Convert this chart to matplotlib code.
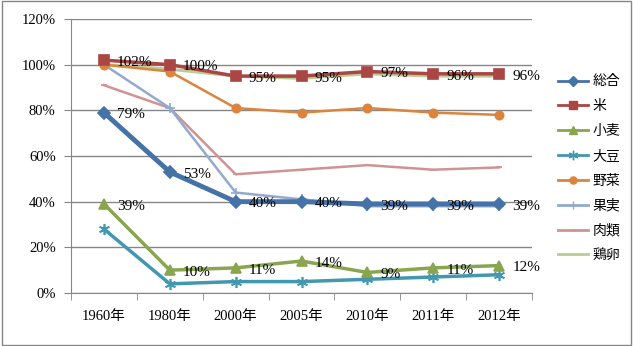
import matplotlib.pyplot as plt
from matplotlib.lines import Line2D
from matplotlib.ticker import FuncFormatter, MultipleLocator

plt.rcParams['font.family'] = ['Liberation Serif', 'Noto Sans CJK JP']

years = ["1960年", "1980年", "2000年", "2005年", "2010年", "2011年", "2012年"]
names = ["総合", "米", "小麦", "大豆", "野菜", "果実", "肉類", "鶏卵"]
total = [79, 53, 40, 40, 39, 39, 39]
rice = [102, 100, 95, 95, 97, 96, 96]
wheat = [39, 10, 11, 14, 9, 11, 12]
soy = [28, 4, 5, 5, 6, 7, 8]
veg = [100, 97, 81, 79, 81, 79, 78]
fruit = [100, 81, 44, 41, 38, 38, 38]
meat = [91, 81, 52, 54, 56, 54, 55]
egg = [100, 98, 95, 94, 96, 95, 95]

series = [total, rice, wheat, soy, veg, fruit, meat, egg]
colors = ["#4572A7", "#AA4643", "#89A54E", "#4198AF", "#DB843D", "#93A9CF", "#D19392", "#B9CD96"]
markers = ["D", "s", "^", (6, 2, 0), "o", "+", "_", None]
msizes = [6, 7, 7, 8, 6, 7, 5, 0]
widths = [3.5, 2.5, 2.5, 2.5, 1.8, 1.8, 1.8, 2.2]
labeled = [0, 1, 2]

fig = plt.figure(figsize=(6.33, 3.46), dpi=100)
ax = fig.add_axes([71 / 633, 1 - 293 / 346, (532 - 71) / 633, (293 - 19) / 346])

x = list(range(len(years)))
for i in [7, 6, 5, 4, 3, 2, 1, 0]:
    ax.plot(x, series[i], color=colors[i], lw=widths[i], marker=markers[i],
            ms=msizes[i], mew=1.2, zorder=3 + (8 - i))

for i in labeled:
    for xi, v in zip(x, series[i]):
        ax.text(xi + 0.2, v - 1, f"{v}%", fontsize=11, va="center", ha="left", zorder=20)

ax.set_xlim(-0.5, len(years) - 0.5)
ax.set_ylim(0, 120)
ax.yaxis.set_major_locator(MultipleLocator(20))
ax.yaxis.set_major_formatter(FuncFormatter(lambda v, p: f"{int(v)}%"))
ax.set_xticks(x)
ax.set_xticklabels(years)
ax.set_xticks([k - 0.5 for k in range(len(years) + 1)], minor=True)
ax.tick_params(axis="x", which="major", length=0, pad=12, labelsize=10.5)
ax.tick_params(axis="x", which="minor", length=5, color="#868686", direction="out")
ax.tick_params(axis="y", length=5, color="#868686", direction="out", labelsize=10.5, pad=6)
ax.grid(axis="y", color="#868686", lw=1)
ax.set_axisbelow(True)
for s in ["top", "right"]:
    ax.spines[s].set_visible(False)
for s in ["left", "bottom"]:
    ax.spines[s].set_color("#868686")

# thinner proxies for the legend, like the original
handles = [Line2D([], [], color=colors[i], lw=2, marker=markers[i],
                  ms=msizes[i] * 0.85, mew=1) for i in range(8)]
fig.legend(handles, names, loc="upper left", bbox_to_anchor=(545 / 633, 1 - 62 / 346),
           frameon=False, handlelength=2.2, handletextpad=0.3, labelspacing=0.78,
           prop={"family": ["Noto Sans CJK JP"], "size": 10})

fig.patches.append(plt.Rectangle((0.003, 0.004), 0.994, 0.992, transform=fig.transFigure,
                                 fill=False, edgecolor="#868686", lw=1))

plt.savefig("out.png", dpi=100)
